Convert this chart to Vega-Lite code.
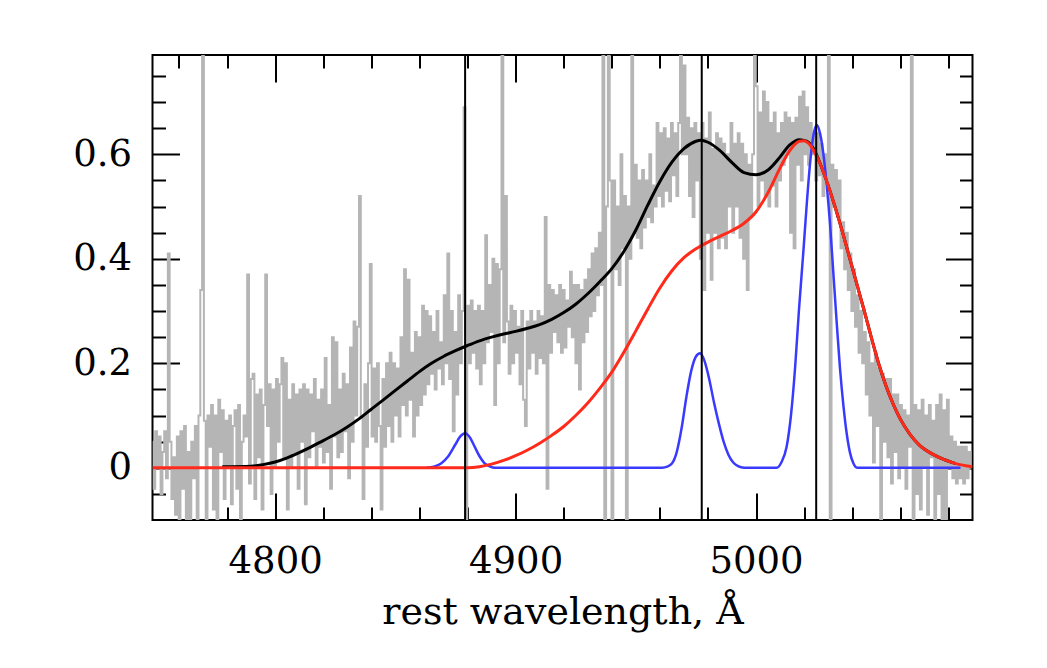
{
  "$schema": "https://vega.github.io/schema/vega-lite/v6.json",
  "width": 820,
  "height": 465,
  "autosize": "none",
  "padding": {"left": 152.5, "top": 55, "right": 74.5, "bottom": 148},
  "background": "white",
  "config": {"view": {"stroke": "black", "strokeWidth": 2}},
  "datasets": {
    "gray": [
      {"x":4749,"y":0.05},{"x":4749.75,"y":-0.04},{"x":4750.5,"y":0.07},{"x":4751.25,"y":0.0},
      {"x":4752,"y":0.06},{"x":4752.75,"y":-0.05},{"x":4753.5,"y":0.03},{"x":4754.25,"y":0.07},
      {"x":4755,"y":-0.02},{"x":4755.75,"y":0.41},{"x":4756.5,"y":0.05},{"x":4757.25,"y":-0.06},
      {"x":4758,"y":0.02},{"x":4758.75,"y":-0.09},{"x":4759.5,"y":0.06},{"x":4760.25,"y":-0.1},
      {"x":4761,"y":0.07},{"x":4761.75,"y":-0.04},{"x":4762.5,"y":0.08},{"x":4763.25,"y":-0.1},
      {"x":4764,"y":0.03},{"x":4764.75,"y":-0.1},{"x":4765.5,"y":0.05},{"x":4766.25,"y":-0.02},
      {"x":4767,"y":0.08},{"x":4767.75,"y":-0.1},{"x":4768.5,"y":0.1},{"x":4769.25,"y":0.34},
      {"x":4770,"y":1.2},{"x":4770.75,"y":0.09},{"x":4771.5,"y":-0.1},{"x":4772.25,"y":0.1},
      {"x":4773,"y":0.04},{"x":4773.75,"y":0.12},{"x":4774.5,"y":-0.08},{"x":4775.25,"y":0.1},
      {"x":4776,"y":-0.1},{"x":4776.75,"y":0.13},{"x":4777.5,"y":0.03},{"x":4778.25,"y":0.11},
      {"x":4779,"y":-0.06},{"x":4779.75,"y":0.09},{"x":4780.5,"y":0.0},{"x":4781.25,"y":0.1},
      {"x":4782,"y":-0.07},{"x":4782.75,"y":0.08},{"x":4783.5,"y":0.11},{"x":4784.25,"y":-0.04},
      {"x":4785,"y":0.12},{"x":4785.75,"y":-0.1},{"x":4786.5,"y":0.05},{"x":4787.25,"y":0.1},
      {"x":4788,"y":0.06},{"x":4788.75,"y":0.37},{"x":4789.5,"y":-0.03},{"x":4790.25,"y":0.17},
      {"x":4791,"y":0.18},{"x":4791.75,"y":-0.06},{"x":4792.5,"y":0.14},{"x":4793.25,"y":0.02},
      {"x":4794,"y":0.15},{"x":4794.75,"y":-0.08},{"x":4795.5,"y":0.12},{"x":4796.25,"y":0.37},
      {"x":4797,"y":0.08},{"x":4797.75,"y":0.16},{"x":4798.5,"y":-0.05},{"x":4799.25,"y":0.15},
      {"x":4800,"y":0.0},{"x":4800.75,"y":0.17},{"x":4801.5,"y":0.05},{"x":4802.25,"y":0.16},
      {"x":4803,"y":0.21},{"x":4803.75,"y":0.02},{"x":4804.5,"y":0.2},{"x":4805.25,"y":-0.08},
      {"x":4806,"y":0.13},{"x":4806.75,"y":0.0},{"x":4807.5,"y":0.16},{"x":4808.25,"y":0.03},
      {"x":4809,"y":0.14},{"x":4809.75,"y":-0.04},{"x":4810.5,"y":0.15},{"x":4811.25,"y":0.05},
      {"x":4812,"y":0.16},{"x":4812.75,"y":-0.07},{"x":4813.5,"y":0.15},{"x":4814.25,"y":0.02},
      {"x":4815,"y":0.14},{"x":4815.75,"y":0.07},{"x":4816.5,"y":0.17},{"x":4817.25,"y":0.0},
      {"x":4818,"y":0.13},{"x":4818.75,"y":0.04},{"x":4819.5,"y":0.15},{"x":4820.25,"y":0.01},
      {"x":4821,"y":0.21},{"x":4821.75,"y":0.03},{"x":4822.5,"y":0.12},{"x":4823.25,"y":-0.04},
      {"x":4824,"y":0.25},{"x":4824.75,"y":0.06},{"x":4825.5,"y":0.24},{"x":4826.25,"y":0.02},
      {"x":4827,"y":0.15},{"x":4827.75,"y":0.03},{"x":4828.5,"y":0.18},{"x":4829.25,"y":0.07},
      {"x":4830,"y":0.16},{"x":4830.75,"y":-0.02},{"x":4831.5,"y":0.23},{"x":4832.25,"y":0.05},
      {"x":4833,"y":0.28},{"x":4833.75,"y":0.1},{"x":4834.5,"y":0.27},{"x":4835.25,"y":0.52},
      {"x":4836,"y":0.1},{"x":4836.75,"y":-0.06},{"x":4837.5,"y":0.16},{"x":4838.25,"y":0.04},
      {"x":4839,"y":0.2},{"x":4839.75,"y":0.39},{"x":4840.5,"y":0.06},{"x":4841.25,"y":0.19},
      {"x":4842,"y":0.05},{"x":4842.75,"y":0.2},{"x":4843.5,"y":0.08},{"x":4844.25,"y":-0.08},
      {"x":4845,"y":0.17},{"x":4845.75,"y":0.04},{"x":4846.5,"y":0.2},{"x":4847.25,"y":0.08},
      {"x":4848,"y":0.22},{"x":4848.75,"y":0.05},{"x":4849.5,"y":0.2},{"x":4850.25,"y":0.1},
      {"x":4851,"y":0.19},{"x":4851.75,"y":0.06},{"x":4852.5,"y":0.25},{"x":4853.25,"y":0.12},
      {"x":4854,"y":0.38},{"x":4854.75,"y":0.1},{"x":4855.5,"y":0.36},{"x":4856.25,"y":0.13},
      {"x":4857,"y":0.22},{"x":4857.75,"y":0.06},{"x":4858.5,"y":0.26},{"x":4859.25,"y":0.1},
      {"x":4860,"y":0.25},{"x":4860.75,"y":0.12},{"x":4861.5,"y":0.31},{"x":4862.25,"y":0.14},
      {"x":4863,"y":0.3},{"x":4863.75,"y":0.16},{"x":4864.5,"y":0.29},{"x":4865.25,"y":0.18},
      {"x":4866,"y":0.26},{"x":4866.75,"y":0.15},{"x":4867.5,"y":0.3},{"x":4868.25,"y":0.19},
      {"x":4869,"y":0.24},{"x":4869.75,"y":0.16},{"x":4870.5,"y":0.33},{"x":4871.25,"y":0.2},
      {"x":4872,"y":0.41},{"x":4872.75,"y":0.17},{"x":4873.5,"y":0.3},{"x":4874.25,"y":0.07},
      {"x":4875,"y":0.26},{"x":4875.75,"y":0.14},{"x":4876.5,"y":0.33},{"x":4877.25,"y":0.2},
      {"x":4878,"y":0.3},{"x":4878.75,"y":0.69},{"x":4879.5,"y":-0.1},{"x":4880.25,"y":0.31},
      {"x":4881,"y":0.2},{"x":4881.75,"y":0.32},{"x":4882.5,"y":0.22},{"x":4883.25,"y":0.3},
      {"x":4884,"y":0.19},{"x":4884.75,"y":0.31},{"x":4885.5,"y":0.16},{"x":4886.25,"y":0.3},
      {"x":4887,"y":0.2},{"x":4887.75,"y":0.445},{"x":4888.5,"y":0.24},{"x":4889.25,"y":0.35},
      {"x":4890,"y":0.26},{"x":4890.75,"y":0.4},{"x":4891.5,"y":0.12},{"x":4892.25,"y":0.39},
      {"x":4893,"y":0.2},{"x":4893.75,"y":0.38},{"x":4894.5,"y":1.2},{"x":4895.25,"y":0.24},
      {"x":4896,"y":0.52},{"x":4896.75,"y":0.28},{"x":4897.5,"y":0.18},{"x":4898.25,"y":0.31},
      {"x":4899,"y":0.2},{"x":4899.75,"y":0.3},{"x":4900.5,"y":0.22},{"x":4901.25,"y":0.27},
      {"x":4902,"y":0.16},{"x":4902.75,"y":0.3},{"x":4903.5,"y":0.13},{"x":4904.25,"y":0.08},
      {"x":4905,"y":0.28},{"x":4905.75,"y":0.19},{"x":4906.5,"y":0.3},{"x":4907.25,"y":0.22},
      {"x":4908,"y":0.28},{"x":4908.75,"y":0.18},{"x":4909.5,"y":0.3},{"x":4910.25,"y":0.21},
      {"x":4911,"y":0.29},{"x":4911.75,"y":0.2},{"x":4912.5,"y":0.48},{"x":4913.25,"y":-0.04},
      {"x":4914,"y":0.35},{"x":4914.75,"y":0.22},{"x":4915.5,"y":0.34},{"x":4916.25,"y":0.26},
      {"x":4917,"y":0.33},{"x":4917.75,"y":0.24},{"x":4918.5,"y":0.35},{"x":4919.25,"y":0.22},
      {"x":4920,"y":0.34},{"x":4920.75,"y":0.23},{"x":4921.5,"y":0.32},{"x":4922.25,"y":0.27},
      {"x":4923,"y":0.375},{"x":4923.75,"y":0.25},{"x":4924.5,"y":0.35},{"x":4925.25,"y":0.2},
      {"x":4926,"y":0.35},{"x":4926.75,"y":0.15},{"x":4927.5,"y":0.34},{"x":4928.25,"y":0.24},
      {"x":4929,"y":0.36},{"x":4929.75,"y":0.26},{"x":4930.5,"y":0.38},{"x":4931.25,"y":0.29},
      {"x":4932,"y":0.41},{"x":4932.75,"y":0.3},{"x":4933.5,"y":0.42},{"x":4934.25,"y":0.33},
      {"x":4935,"y":0.45},{"x":4935.75,"y":0.35},{"x":4936.5,"y":1.2},{"x":4937.25,"y":-0.12},
      {"x":4938,"y":0.5},{"x":4938.75,"y":1.2},{"x":4939.5,"y":0.55},{"x":4940.25,"y":-0.12},
      {"x":4941,"y":0.55},{"x":4941.75,"y":0.38},{"x":4942.5,"y":0.5},{"x":4943.25,"y":0.35},
      {"x":4944,"y":0.6},{"x":4944.75,"y":0.42},{"x":4945.5,"y":0.52},{"x":4946.25,"y":-0.12},
      {"x":4947,"y":0.5},{"x":4947.75,"y":0.4},{"x":4948.5,"y":1.2},{"x":4949.25,"y":0.45},
      {"x":4950,"y":0.58},{"x":4950.75,"y":0.44},{"x":4951.5,"y":0.55},{"x":4952.25,"y":0.42},
      {"x":4953,"y":0.57},{"x":4953.75,"y":0.46},{"x":4954.5,"y":0.55},{"x":4955.25,"y":0.48},
      {"x":4956,"y":0.6},{"x":4956.75,"y":0.47},{"x":4957.5,"y":0.54},{"x":4958.25,"y":0.5},
      {"x":4959,"y":0.66},{"x":4959.75,"y":0.52},{"x":4960.5,"y":0.64},{"x":4961.25,"y":0.5},
      {"x":4962,"y":0.65},{"x":4962.75,"y":0.53},{"x":4963.5,"y":0.63},{"x":4964.25,"y":0.51},
      {"x":4965,"y":0.66},{"x":4965.75,"y":0.56},{"x":4966.5,"y":0.64},{"x":4967.25,"y":0.52},
      {"x":4968,"y":0.66},{"x":4968.75,"y":1.2},{"x":4969.5,"y":0.6},{"x":4970.25,"y":0.77},
      {"x":4971,"y":0.6},{"x":4971.75,"y":0.67},{"x":4972.5,"y":0.52},{"x":4973.25,"y":0.65},
      {"x":4974,"y":0.48},{"x":4974.75,"y":0.66},{"x":4975.5,"y":0.55},{"x":4976.25,"y":0.64},
      {"x":4977,"y":0.4},{"x":4977.75,"y":0.66},{"x":4978.5,"y":0.34},{"x":4979.25,"y":0.63},
      {"x":4980,"y":0.45},{"x":4980.75,"y":0.68},{"x":4981.5,"y":0.36},{"x":4982.25,"y":0.61},
      {"x":4983,"y":0.45},{"x":4983.75,"y":0.64},{"x":4984.5,"y":0.42},{"x":4985.25,"y":0.63},
      {"x":4986,"y":0.44},{"x":4986.75,"y":0.62},{"x":4987.5,"y":0.42},{"x":4988.25,"y":0.6},
      {"x":4989,"y":0.5},{"x":4989.75,"y":0.66},{"x":4990.5,"y":0.45},{"x":4991.25,"y":0.62},
      {"x":4992,"y":0.5},{"x":4992.75,"y":0.64},{"x":4993.5,"y":0.44},{"x":4994.25,"y":0.62},
      {"x":4995,"y":0.4},{"x":4995.75,"y":0.6},{"x":4996.5,"y":0.34},{"x":4997.25,"y":0.58},
      {"x":4998,"y":0.48},{"x":4998.75,"y":0.6},{"x":4999.5,"y":1.2},{"x":5000.25,"y":0.73},
      {"x":5001,"y":0.5},{"x":5001.75,"y":0.68},{"x":5002.5,"y":0.55},{"x":5003.25,"y":0.72},
      {"x":5004,"y":0.52},{"x":5004.75,"y":0.7},{"x":5005.5,"y":0.5},{"x":5006.25,"y":0.66},
      {"x":5007,"y":0.54},{"x":5007.75,"y":0.68},{"x":5008.5,"y":0.5},{"x":5009.25,"y":0.64},
      {"x":5010,"y":0.55},{"x":5010.75,"y":0.66},{"x":5011.5,"y":0.58},{"x":5012.25,"y":0.68},
      {"x":5013,"y":0.6},{"x":5013.75,"y":0.67},{"x":5014.5,"y":0.45},{"x":5015.25,"y":0.66},
      {"x":5016,"y":0.42},{"x":5016.75,"y":0.67},{"x":5017.5,"y":0.58},{"x":5018.25,"y":0.71},
      {"x":5019,"y":0.55},{"x":5019.75,"y":0.72},{"x":5020.5,"y":0.6},{"x":5021.25,"y":0.69},
      {"x":5022,"y":0.58},{"x":5022.75,"y":0.66},{"x":5023.5,"y":0.6},{"x":5024.25,"y":0.64},
      {"x":5025,"y":0.55},{"x":5025.75,"y":0.64},{"x":5026.5,"y":0.56},{"x":5027.25,"y":0.62},
      {"x":5028,"y":0.52},{"x":5028.75,"y":0.6},{"x":5029.5,"y":0.55},{"x":5030.25,"y":1.2},
      {"x":5031,"y":-0.12},{"x":5031.75,"y":0.58},{"x":5032.5,"y":0.5},{"x":5033.25,"y":0.57},
      {"x":5034,"y":0.48},{"x":5034.75,"y":0.55},{"x":5035.5,"y":0.42},{"x":5036.25,"y":0.47},
      {"x":5037,"y":0.38},{"x":5037.75,"y":0.45},{"x":5038.5,"y":0.34},{"x":5039.25,"y":0.41},
      {"x":5040,"y":0.3},{"x":5040.75,"y":0.38},{"x":5041.5,"y":0.27},{"x":5042.25,"y":0.33},
      {"x":5043,"y":0.22},{"x":5043.75,"y":0.3},{"x":5044.5,"y":0.2},{"x":5045.25,"y":0.26},
      {"x":5046,"y":0.14},{"x":5046.75,"y":0.24},{"x":5047.5,"y":0.1},{"x":5048.25,"y":0.2},
      {"x":5049,"y":0.01},{"x":5049.75,"y":0.22},{"x":5050.5,"y":0.08},{"x":5051.25,"y":0.19},
      {"x":5052,"y":-0.1},{"x":5052.75,"y":0.18},{"x":5053.5,"y":0.05},{"x":5054.25,"y":0.17},
      {"x":5055,"y":0.02},{"x":5055.75,"y":0.17},{"x":5056.5,"y":-0.03},{"x":5057.25,"y":0.14},
      {"x":5058,"y":0.03},{"x":5058.75,"y":0.14},{"x":5059.5,"y":-0.02},{"x":5060.25,"y":0.12},
      {"x":5061,"y":0.0},{"x":5061.75,"y":0.11},{"x":5062.5,"y":-0.04},{"x":5063.25,"y":0.1},
      {"x":5064,"y":0.04},{"x":5064.75,"y":1.2},{"x":5065.5,"y":-0.12},{"x":5066.25,"y":0.12},
      {"x":5067,"y":-0.05},{"x":5067.75,"y":0.11},{"x":5068.5,"y":-0.08},{"x":5069.25,"y":0.13},
      {"x":5070,"y":0.0},{"x":5070.75,"y":0.1},{"x":5071.5,"y":-0.09},{"x":5072.25,"y":0.12},
      {"x":5073,"y":0.02},{"x":5073.75,"y":0.09},{"x":5074.5,"y":-0.1},{"x":5075.25,"y":0.12},
      {"x":5076,"y":-0.05},{"x":5076.75,"y":0.14},{"x":5077.5,"y":-0.1},{"x":5078.25,"y":0.11},
      {"x":5079,"y":-0.1},{"x":5079.75,"y":0.13},{"x":5080.5,"y":0.0},{"x":5081.25,"y":0.06},
      {"x":5082,"y":-0.02},{"x":5082.75,"y":0.05},{"x":5083.5,"y":-0.03},{"x":5084.25,"y":0.04},
      {"x":5085,"y":-0.02},{"x":5085.75,"y":0.04},{"x":5086.5,"y":-0.03},{"x":5087.25,"y":0.04},
      {"x":5088,"y":-0.02},{"x":5088.75,"y":0.03},{"x":5089.5,"y":0.0}
    ],
    "black": [
      {"x":4778,"y":0.002},{"x":4790,"y":0.003},{"x":4795,"y":0.006},{"x":4800,"y":0.011},{"x":4805,"y":0.019},{"x":4810,"y":0.029},{"x":4815,"y":0.04},{"x":4820,"y":0.052},{"x":4825,"y":0.064},{"x":4830,"y":0.078},
      {"x":4835,"y":0.094},{"x":4840,"y":0.112},{"x":4845,"y":0.13},{"x":4850,"y":0.148},{"x":4855,"y":0.166},{"x":4860,"y":0.184},{"x":4865,"y":0.2},{"x":4870,"y":0.213},{"x":4875,"y":0.224},{"x":4880,"y":0.234},
      {"x":4885,"y":0.243},{"x":4890,"y":0.25},{"x":4895,"y":0.256},{"x":4900,"y":0.261},{"x":4905,"y":0.267},{"x":4910,"y":0.274},{"x":4915,"y":0.284},{"x":4920,"y":0.297},{"x":4925,"y":0.313},{"x":4930,"y":0.333},
      {"x":4935,"y":0.356},{"x":4940,"y":0.381},{"x":4945,"y":0.414},{"x":4950,"y":0.455},{"x":4955,"y":0.503},{"x":4960,"y":0.548},{"x":4965,"y":0.585},{"x":4970,"y":0.611},{"x":4975,"y":0.625},{"x":4977,"y":0.627},
      {"x":4980,"y":0.623},{"x":4985,"y":0.607},{"x":4990,"y":0.584},{"x":4995,"y":0.565},{"x":5000,"y":0.561},{"x":5005,"y":0.57},{"x":5010,"y":0.595},{"x":5014,"y":0.618},{"x":5018,"y":0.628},{"x":5021,"y":0.625},
      {"x":5024,"y":0.61},{"x":5027,"y":0.578},{"x":5030,"y":0.54},{"x":5033,"y":0.497},{"x":5036,"y":0.45},{"x":5039,"y":0.4},{"x":5042,"y":0.35},{"x":5045,"y":0.3},{"x":5048,"y":0.248},{"x":5051,"y":0.199},
      {"x":5054,"y":0.157},{"x":5057,"y":0.122},{"x":5060,"y":0.093},{"x":5064,"y":0.064},{"x":5068,"y":0.043},{"x":5073,"y":0.027},{"x":5078,"y":0.016},{"x":5083,"y":0.008}
    ],
    "red": [
      {"x":4749,"y":0},{"x":4880,"y":0},{"x":4885,"y":0.002},{"x":4890,"y":0.007},{"x":4895,"y":0.014},{"x":4900,"y":0.023},{"x":4905,"y":0.034},{"x":4910,"y":0.047},{"x":4915,"y":0.062},{"x":4920,"y":0.079},
      {"x":4925,"y":0.1},{"x":4930,"y":0.124},{"x":4935,"y":0.152},{"x":4940,"y":0.183},{"x":4945,"y":0.221},{"x":4950,"y":0.262},{"x":4955,"y":0.304},{"x":4960,"y":0.344},{"x":4965,"y":0.377},{"x":4970,"y":0.402},
      {"x":4975,"y":0.419},{"x":4980,"y":0.432},{"x":4985,"y":0.443},{"x":4990,"y":0.454},{"x":4995,"y":0.468},{"x":5000,"y":0.49},{"x":5005,"y":0.527},{"x":5010,"y":0.574},{"x":5014,"y":0.607},{"x":5018,"y":0.625},
      {"x":5020,"y":0.626},{"x":5022,"y":0.62},{"x":5024,"y":0.607},{"x":5027,"y":0.578},{"x":5030,"y":0.54},{"x":5033,"y":0.497},{"x":5036,"y":0.45},{"x":5039,"y":0.4},{"x":5042,"y":0.35},{"x":5045,"y":0.3},
      {"x":5048,"y":0.248},{"x":5051,"y":0.199},{"x":5054,"y":0.157},{"x":5057,"y":0.122},{"x":5060,"y":0.093},{"x":5064,"y":0.064},{"x":5068,"y":0.043},{"x":5073,"y":0.027},{"x":5078,"y":0.016},{"x":5083,"y":0.008},
      {"x":5090,"y":0.002}
    ],
    "blue": [
      {"x":4863,"y":0},{"x":4866,"y":0.002},{"x":4869,"y":0.008},{"x":4872,"y":0.022},{"x":4875,"y":0.045},{"x":4877,"y":0.06},{"x":4879,"y":0.066},{"x":4881,"y":0.058},{"x":4883,"y":0.04},{"x":4885,"y":0.022},
      {"x":4887,"y":0.009},{"x":4889,"y":0.003},{"x":4891,"y":0},{"x":4961,"y":0},{"x":4963,"y":0.002},{"x":4965,"y":0.008},{"x":4967,"y":0.03},{"x":4969,"y":0.075},{"x":4971,"y":0.135},{"x":4973,"y":0.185},
      {"x":4975,"y":0.213},{"x":4976.7,"y":0.219},{"x":4978.5,"y":0.205},{"x":4980.5,"y":0.17},{"x":4982.5,"y":0.125},{"x":4984.5,"y":0.085},{"x":4986.5,"y":0.05},{"x":4988.5,"y":0.025},{"x":4990.5,"y":0.01},{"x":4992.5,"y":0.003},
      {"x":4995,"y":0},{"x":5008.6,"y":0},{"x":5010.5,"y":0.01},{"x":5012.7,"y":0.04},{"x":5014.5,"y":0.1},{"x":5016.2,"y":0.19},{"x":5017.8,"y":0.3},{"x":5019.6,"y":0.41},{"x":5021,"y":0.5},{"x":5022.4,"y":0.58},
      {"x":5023.8,"y":0.635},{"x":5025.2,"y":0.656},{"x":5026.6,"y":0.64},{"x":5028,"y":0.6},{"x":5029.4,"y":0.54},{"x":5030.7,"y":0.47},{"x":5032.1,"y":0.375},{"x":5033.5,"y":0.28},{"x":5034.9,"y":0.19},{"x":5036.3,"y":0.12},
      {"x":5037.7,"y":0.065},{"x":5039.1,"y":0.028},{"x":5040.5,"y":0.008},{"x":5042,"y":0},{"x":5085,"y":0}
    ],
    "lines": [{"x":4879},{"x":4977.4},{"x":5025}]
  },
  "layer": [
    {
      "data": {"name": "gray"},
      "mark": {"type": "line", "interpolate": "step", "color": "#b5b5b5", "strokeWidth": 2, "clip": true},
      "encoding": {
        "x": {
          "field": "x", "type": "quantitative",
          "scale": {"domain": [4749, 5090], "nice": false, "zero": false},
          "axis": {
            "orient": "bottom",
            "values": [4760,4780,4800,4820,4840,4860,4880,4900,4920,4940,4960,4980,5000,5020,5040,5060,5080],
            "domain": false, "grid": false,
            "tickColor": "black", "tickWidth": 2,
            "tickSize": {"condition": {"test": "datum.value % 100 === 0", "value": -27}, "value": -13},
            "labelExpr": "datum.value % 100 === 0 ? format(datum.value, 'd') : ''",
            "labelOverlap": false, "labelFlush": false,
            "labelFont": "DejaVu Serif", "labelFontSize": 37, "labelColor": "black",
            "labelBaseline": "alphabetic", "labelPadding": 79,
            "title": "rest wavelength, Å",
            "titleFont": "DejaVu Serif", "titleFontSize": 38, "titleFontWeight": "normal", "titleColor": "black",
            "titleBaseline": "alphabetic", "titleY": 103
          }
        },
        "y": {
          "field": "y", "type": "quantitative",
          "scale": {"domain": [-0.1, 0.79], "nice": false, "zero": false},
          "axis": {
            "orient": "left",
            "values": [-0.05,0,0.05,0.1,0.15,0.2,0.25,0.3,0.35,0.4,0.45,0.5,0.55,0.6,0.65,0.7,0.75],
            "domain": false, "grid": false,
            "tickColor": "black", "tickWidth": 2,
            "tickSize": {"condition": {"test": "round(datum.value * 100) % 20 === 0", "value": -27}, "value": -13},
            "labelExpr": "round(datum.value * 100) % 20 === 0 ? (round(datum.value * 100) === 0 ? '0' : format(datum.value, '.1f')) : ''",
            "labelOverlap": false, "labelFlush": false,
            "labelFont": "DejaVu Serif", "labelFontSize": 37, "labelColor": "black",
            "labelBaseline": "middle", "labelPadding": 48,
            "title": null
          }
        }
      }
    },
    {
      "data": {"name": "black"},
      "mark": {"type": "line", "interpolate": "monotone", "color": "black", "strokeWidth": 3, "clip": true},
      "encoding": {
        "x": {
          "field": "x", "type": "quantitative",
          "axis": {
            "orient": "top",
            "values": [4760,4780,4800,4820,4840,4860,4880,4900,4920,4940,4960,4980,5000,5020,5040,5060,5080],
            "domain": false, "grid": false, "labels": false, "title": null,
            "tickColor": "black", "tickWidth": 2,
            "tickSize": {"condition": {"test": "datum.value % 100 === 0", "value": -27}, "value": -13}
          }
        },
        "y": {
          "field": "y", "type": "quantitative",
          "axis": {
            "orient": "right",
            "values": [-0.05,0,0.05,0.1,0.15,0.2,0.25,0.3,0.35,0.4,0.45,0.5,0.55,0.6,0.65,0.7,0.75],
            "domain": false, "grid": false, "labels": false, "title": null,
            "tickColor": "black", "tickWidth": 2,
            "tickSize": {"condition": {"test": "round(datum.value * 100) % 20 === 0", "value": -27}, "value": -13}
          }
        }
      }
    },
    {
      "data": {"name": "blue"},
      "mark": {"type": "line", "interpolate": "monotone", "color": "#3a3aff", "strokeWidth": 2.5, "clip": true},
      "encoding": {
        "x": {"field": "x", "type": "quantitative", "axis": null},
        "y": {"field": "y", "type": "quantitative", "axis": null}
      }
    },
    {
      "data": {"name": "red"},
      "mark": {"type": "line", "interpolate": "monotone", "color": "#ff2a1a", "strokeWidth": 3, "clip": true},
      "encoding": {
        "x": {"field": "x", "type": "quantitative", "axis": null},
        "y": {"field": "y", "type": "quantitative", "axis": null}
      }
    },
    {
      "data": {"name": "lines"},
      "mark": {"type": "rule", "color": "black", "strokeWidth": 2},
      "encoding": {
        "x": {"field": "x", "type": "quantitative", "axis": null}
      }
    }
  ],
  "resolve": {"axis": {"x": "independent", "y": "independent"}}
}
